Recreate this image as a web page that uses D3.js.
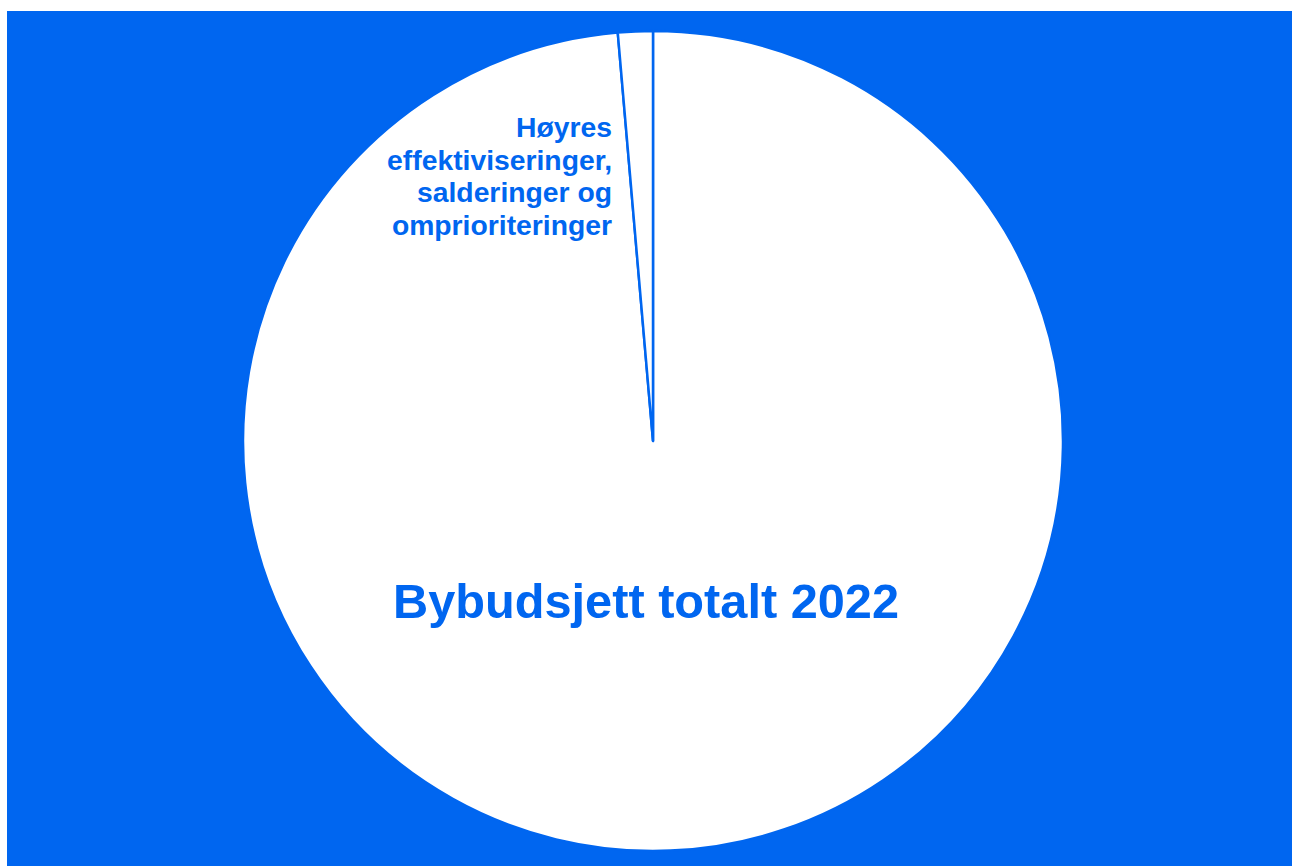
<!DOCTYPE html>
<html>
<head>
<meta charset="utf-8">
<script src="https://cdn.jsdelivr.net/npm/d3@7"></script>
<style>
html,body{margin:0;padding:0;background:#fff;}
svg{display:block;}
</style>
</head>
<body>
<svg id="chart" width="1292" height="866"></svg>
<script>
const categories = ["Bybudsjett totalt 2022", "Høyres effektiviseringer, salderinger og omprioriteringer"];
const values = [98.63, 1.37];
const labelLines = [["Bybudsjett totalt 2022"], ["Høyres", "effektiviseringer,", "salderinger og", "omprioriteringer"]];

const blue = "#0066f0";
const svg = d3.select("#chart");
svg.append("rect").attr("x", 7).attr("y", 11).attr("width", 1285).attr("height", 855).attr("fill", blue);

const cx = 653, cy = 441, R = 410;
const g = svg.append("g").attr("transform", `translate(${cx},${cy})`);
const pie = d3.pie().sort(null).value(d => d)(values);
const arc = d3.arc().innerRadius(0).outerRadius(R);

g.selectAll("path").data(pie).join("path")
  .attr("d", arc)
  .attr("fill", "#ffffff")
  .attr("stroke", blue)
  .attr("stroke-width", 2.5)
  .attr("stroke-linejoin", "round");

// main label
g.append("text")
  .attr("x", -7).attr("y", 177)
  .attr("text-anchor", "middle")
  .attr("font-family", "Liberation Sans, Arial, sans-serif")
  .attr("font-weight", "bold")
  .attr("font-size", 48.7)
  .attr("fill", blue)
  .text(labelLines[0][0]);

// small slice label
const t = g.append("text")
  .attr("text-anchor", "end")
  .attr("font-family", "Liberation Sans, Arial, sans-serif")
  .attr("font-weight", "bold")
  .attr("font-size", 28.3)
  .attr("fill", blue);
labelLines[1].forEach((line, i) => {
  t.append("tspan").attr("x", -41).attr("y", -304 + i * 32.5).text(line);
});
</script>
</body>
</html>
